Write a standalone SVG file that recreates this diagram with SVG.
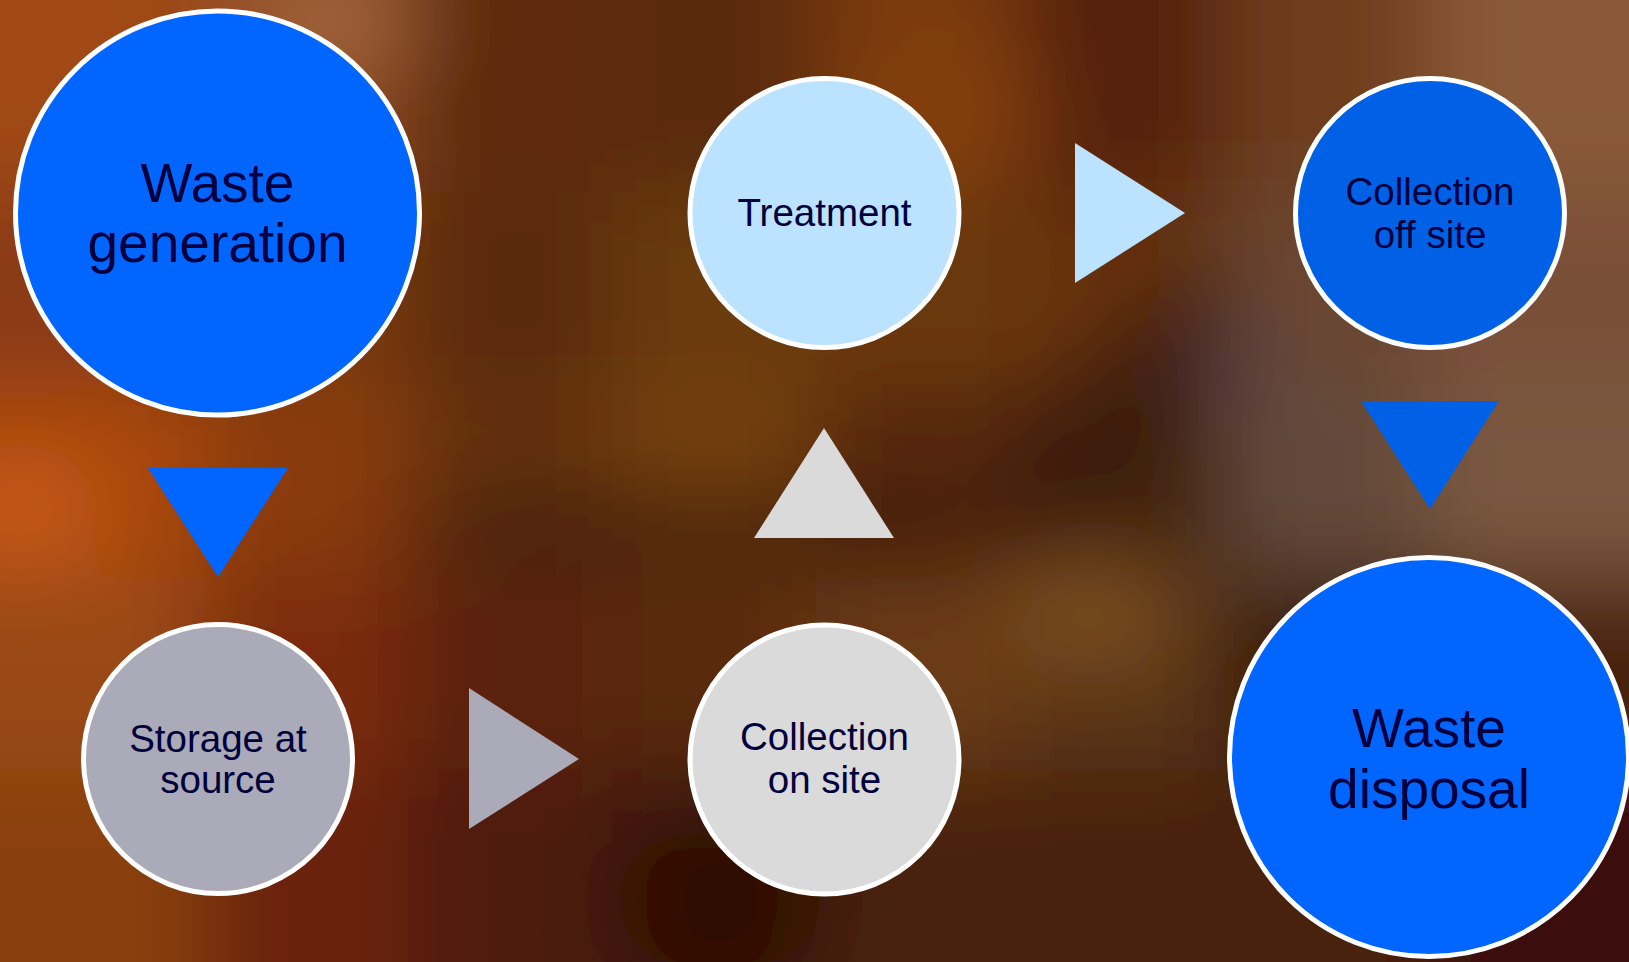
<svg xmlns="http://www.w3.org/2000/svg" width="1629" height="962" viewBox="0 0 1629 962">
<defs>
<filter id="blur" filterUnits="userSpaceOnUse" x="-300" y="-300" width="2229" height="1562">
<feGaussianBlur stdDeviation="45"/>
</filter>
<clipPath id="page"><rect x="0" y="0" width="1629" height="962"/></clipPath>
</defs>
<style>
.node circle{stroke:#FFFFFF;stroke-width:5}
.lbl{font-family:"Liberation Sans",Arial,sans-serif;fill:#00003C;text-anchor:middle}
.big{font-size:55px}
.small{font-size:38.5px}
.blue{fill:#0066FF}
.dblue{fill:#0060E6}
.lblue{fill:#BBE2FF}
.grey{fill:#AAAAB8}
.lgrey{fill:#DADADA}
</style>
<g id="background" clip-path="url(#page)">
<rect x="0" y="0" width="1629" height="962" fill="#5A2A0C"/>
<g filter="url(#blur)">
<rect x="-200" y="-200" width="404" height="392" fill="#A04A18"/>
<rect x="204" y="-200" width="204" height="392" fill="#8A4A20"/>
<rect x="408" y="-200" width="204" height="392" fill="#5E2C0A"/>
<rect x="612" y="-200" width="204" height="392" fill="#5A2A0A"/>
<rect x="816" y="-200" width="204" height="392" fill="#7A3A10"/>
<rect x="1020" y="-200" width="204" height="392" fill="#55220A"/>
<rect x="1224" y="-200" width="204" height="392" fill="#6E3C1A"/>
<rect x="1428" y="-200" width="401" height="392" fill="#8A5A38"/>

<rect x="-200" y="192" width="404" height="193" fill="#8A3A12"/>
<rect x="204" y="192" width="204" height="193" fill="#7A3A10"/>
<rect x="408" y="192" width="204" height="193" fill="#5A2A0A"/>
<rect x="612" y="192" width="204" height="193" fill="#6A3A10"/>
<rect x="816" y="192" width="204" height="193" fill="#6A3810"/>
<rect x="1020" y="192" width="204" height="193" fill="#66300E"/>
<rect x="1224" y="192" width="204" height="193" fill="#6A4632"/>
<rect x="1428" y="192" width="401" height="193" fill="#7A5038"/>

<rect x="-200" y="385" width="404" height="192" fill="#A8460F"/>
<rect x="204" y="385" width="204" height="192" fill="#8A3A10"/>
<rect x="408" y="385" width="204" height="192" fill="#643008"/>
<rect x="612" y="385" width="204" height="192" fill="#744010"/>
<rect x="816" y="385" width="204" height="192" fill="#54280A"/>
<rect x="1020" y="385" width="204" height="192" fill="#42200C"/>
<rect x="1224" y="385" width="204" height="192" fill="#64483A"/>
<rect x="1428" y="385" width="401" height="192" fill="#7A5840"/>

<rect x="-200" y="577" width="404" height="192" fill="#9A4A12"/>
<rect x="204" y="577" width="204" height="192" fill="#7A2A08"/>
<rect x="408" y="577" width="204" height="192" fill="#5A2208"/>
<rect x="612" y="577" width="204" height="192" fill="#5A2A0A"/>
<rect x="816" y="577" width="204" height="192" fill="#6A3A12"/>
<rect x="1020" y="577" width="204" height="192" fill="#5A3414"/>
<rect x="1224" y="577" width="204" height="192" fill="#3A1C0C"/>
<rect x="1428" y="577" width="401" height="192" fill="#4A2010"/>

<rect x="-200" y="769" width="404" height="393" fill="#8A4010"/>
<rect x="204" y="769" width="204" height="393" fill="#6A2008"/>
<rect x="408" y="769" width="204" height="393" fill="#4E1C08"/>
<rect x="612" y="769" width="204" height="393" fill="#3A160A"/>
<rect x="816" y="769" width="204" height="393" fill="#4A200C"/>
<rect x="1020" y="769" width="204" height="393" fill="#4A2210"/>
<rect x="1224" y="769" width="204" height="393" fill="#4A2010"/>
<rect x="1428" y="769" width="401" height="393" fill="#3A1008"/>

<ellipse cx="330" cy="20" rx="90" ry="40" fill="#A86A40"/>
<ellipse cx="20" cy="510" rx="80" ry="60" fill="#C85A14"/>
<ellipse cx="700" cy="530" rx="320" ry="30" fill="#34160A"/>
<ellipse cx="1120" cy="400" rx="40" ry="170" fill="#34160A" transform="rotate(40 1120 400)"/>
<ellipse cx="1090" cy="610" rx="90" ry="50" fill="#7E5020"/>
<ellipse cx="950" cy="110" rx="90" ry="60" fill="#864010"/>
<ellipse cx="1240" cy="370" rx="35" ry="50" fill="#5A4248"/>
<ellipse cx="720" cy="900" rx="110" ry="70" fill="#2C0C06"/>
</g>
</g>

<g id="connectors">
<polygon class="blue" points="148,468 288,468 218,577"/>
<polygon class="grey" points="469,688 469,829 579,759"/>
<polygon class="lgrey" points="754,538 894,538 824,428"/>
<polygon class="lblue" points="1075,143 1075,283 1185,213"/>
<polygon class="dblue" points="1361,401 1499,401 1430,509"/>
</g>

<g id="waste-generation" class="node">
<circle class="blue" cx="217.5" cy="213" r="202"/>
<text class="lbl big" x="217.5" y="202">Waste</text>
<text class="lbl big" x="217.5" y="262">generation</text>
</g>
<g id="treatment" class="node">
<circle class="lblue" cx="824.5" cy="213" r="134.5"/>
<text class="lbl small" x="824.5" y="226">Treatment</text>
</g>
<g id="collection-off-site" class="node">
<circle class="dblue" cx="1430" cy="213" r="134.5"/>
<text class="lbl small" x="1430" y="205">Collection</text>
<text class="lbl small" x="1430" y="248">off site</text>
</g>
<g id="storage-at-source" class="node">
<circle class="grey" cx="218" cy="759" r="134.5"/>
<text class="lbl small" x="218" y="752">Storage at</text>
<text class="lbl small" x="218" y="793">source</text>
</g>
<g id="collection-on-site" class="node">
<circle class="lgrey" cx="824.5" cy="759.5" r="134.5"/>
<text class="lbl small" x="824.5" y="750">Collection</text>
<text class="lbl small" x="824.5" y="793">on site</text>
</g>
<g id="waste-disposal" class="node">
<circle class="blue" cx="1429" cy="757" r="199.5"/>
<text class="lbl big" x="1429" y="747">Waste</text>
<text class="lbl big" x="1429" y="808">disposal</text>
</g>
</svg>
